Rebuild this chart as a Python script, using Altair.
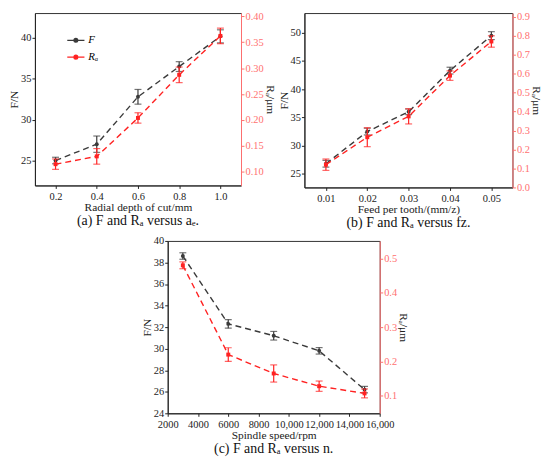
import altair as alt
import pandas as pd

# ---------------- data ----------------
# (a) radial depth of cut
a_x = [0.2, 0.4, 0.6, 0.8, 1.0]
a_F = [25.0, 27.0, 32.8, 36.5, 40.2]
a_F_err = [0.4, 1.0, 0.9, 0.6, 0.8]
a_Ra = [0.115, 0.130, 0.204, 0.287, 0.362]
a_Ra_err = [0.010, 0.015, 0.010, 0.015, 0.015]

# (b) feed per tooth
b_x = [0.01, 0.02, 0.03, 0.04, 0.05]
b_F = [26.8, 32.5, 36.0, 43.3, 49.5]
b_F_err = [0.6, 0.6, 0.5, 0.6, 0.7]
b_Ra = [0.12, 0.265, 0.375, 0.59, 0.77]
b_Ra_err = [0.03, 0.05, 0.04, 0.025, 0.03]

# (c) spindle speed
c_x = [3000, 6000, 9000, 12000, 15000]
c_F = [38.6, 32.3, 31.2, 29.8, 26.2]
c_F_err = [0.3, 0.4, 0.4, 0.3, 0.3]
c_Ra = [0.48, 0.22, 0.165, 0.128, 0.107]
c_Ra_err = [0.01, 0.02, 0.025, 0.015, 0.013]

SERIES = ["F", "Rₐ"]
GREY = "#3a3a3a"
RED = "#ff2222"
PINK = "#ff7070"
FONT = "Liberation Serif"
LS = 10.5   # tick label size
TS = 11.5   # axis title size


def frame(xs, ys, errs, name):
    return pd.DataFrame({
        "x": xs,
        "v": ys,
        "lo": [y - e for y, e in zip(ys, errs)],
        "hi": [y + e for y, e in zip(ys, errs)],
        "series": name,
    })


def panel(xs, F, Fe, Ra, Rae, xdom, xticks, xlabel_expr, xtitle,
          Fdom, Fticks, Rdom, Rticks, Rfmt, legx, legy, caption, w, h):
    dF = frame(xs, F, Fe, SERIES[0])
    dR = frame(xs, Ra, Rae, SERIES[1])
    xscale = alt.Scale(domain=xdom, nice=False, zero=False)
    xaxis = alt.Axis(title=xtitle, values=xticks, labelExpr=xlabel_expr,
                     grid=False, tickSize=3, labelFontSize=LS,
                     titleFontSize=TS, titlePadding=0, labelPadding=3,
                     domainColor="#222", tickColor="#222", labelColor="#222",
                     titleColor="#222", labelFlush=False)
    color = alt.Color("series:N",
                      scale=alt.Scale(domain=SERIES, range=[GREY, RED]),
                      legend=alt.Legend(title=None, orient="none",
                                        legendX=legx, legendY=legy,
                                        symbolType="M-1,0H1M0.22,0A0.22,0.22 0 1 1 -0.22,0A0.22,0.22 0 1 1 0.22,0Z",
                                        symbolSize=300, symbolStrokeWidth=1.3,
                                        labelFont=FONT, labelFontSize=11,
                                        labelFontStyle="italic",
                                        rowPadding=2, labelOffset=3))

    def group(d, dom, ticks, fmt, orient, title, col, axcol, labcol, shape):
        ys = alt.Scale(domain=dom, nice=False, zero=False)
        ax = alt.Axis(title=title, orient=orient, values=ticks, format=fmt,
                      grid=False, tickSize=3, labelFontSize=LS,
                      titleFontSize=TS, titlePadding=1, labelPadding=1,
                      domainColor=axcol, tickColor=axcol, labelColor=labcol,
                      titleColor="#222")
        base = alt.Chart(d).encode(x=alt.X("x:Q", scale=xscale, axis=xaxis))
        err = base.mark_errorbar(ticks={"size": 7, "thickness": 1.2},
                                 thickness=1.2, color=col).encode(
            y=alt.Y("lo:Q", scale=ys, axis=ax), y2="hi:Q")
        line = base.mark_line(strokeDash=[6, 4], strokeWidth=1.4).encode(
            y=alt.Y("v:Q", scale=ys, axis=ax), color=color)
        pts = base.mark_point(filled=True, shape=shape, size=16, opacity=1).encode(
            y=alt.Y("v:Q", scale=ys, axis=ax), color=color)
        return alt.layer(err, line, pts)

    gF = group(dF, Fdom, Fticks, "d", "left", "F/N", GREY, "#222", "#222", "circle")
    gR = group(dR, Rdom, Rticks, Rfmt, "right", "Rₐ/μm", RED, PINK, PINK, "square")
    return alt.layer(gF, gR).resolve_scale(y="independent").properties(
        width=w, height=h,
        title=alt.TitleParams(caption, orient="bottom", font=FONT, fontSize=14,
                              fontWeight="normal", color="#111", offset=1))


pa = panel(a_x, a_F, a_F_err, a_Ra, a_Ra_err,
           [0.1, 1.1], a_x, "format(datum.value, '.1f')", "Radial depth of cut/mm",
           [21.95, 43.05], [25, 30, 35, 40], [0.074, 0.406],
           [0.10, 0.15, 0.20, 0.25, 0.30, 0.35, 0.40], ".2f",
           32, 18, "(a) F and Rₐ versus aₑ.", 208, 174)

pb = panel(b_x, b_F, b_F_err, b_Ra, b_Ra_err,
           [0.0048, 0.0551], b_x, "format(datum.value, '.2f')", "Feed per tooth/(mm/z)",
           [22.6, 53.5], [25, 30, 35, 40, 45, 50], [0.0, 0.92],
           [0.0, 0.1, 0.2, 0.3, 0.4, 0.5, 0.6, 0.7, 0.8, 0.9], ".1f",
           22, 20, "(b) F and Rₐ versus fz.", 210, 176)

pc = panel(c_x, c_F, c_F_err, c_Ra, c_Ra_err,
           [2000, 16000], [2000, 4000, 6000, 8000, 10000, 12000, 14000, 16000],
           "datum.value >= 10000 ? format(datum.value, ',') : format(datum.value, 'd')",
           "Spindle speed/rpm",
           [24, 40], [24, 26, 28, 30, 32, 34, 36, 38, 40], [0.049, 0.551],
           [0.1, 0.2, 0.3, 0.4, 0.5], ".1f",
           162, 12, "(c) F and Rₐ versus n.", 214, 174)

top = alt.hconcat(pa, pb, spacing=2)
chart = alt.vconcat(top, pc, spacing=4, center=True).configure(
    padding={"left": 0, "top": 0, "right": 0, "bottom": 0},
    font=FONT,
).configure_axis(
    labelFont=FONT, titleFont=FONT, titleFontWeight="normal",
).configure_view(stroke="#333", strokeWidth=1)

chart.save("out.html", embed_options={"renderer": "svg", "actions": False})
